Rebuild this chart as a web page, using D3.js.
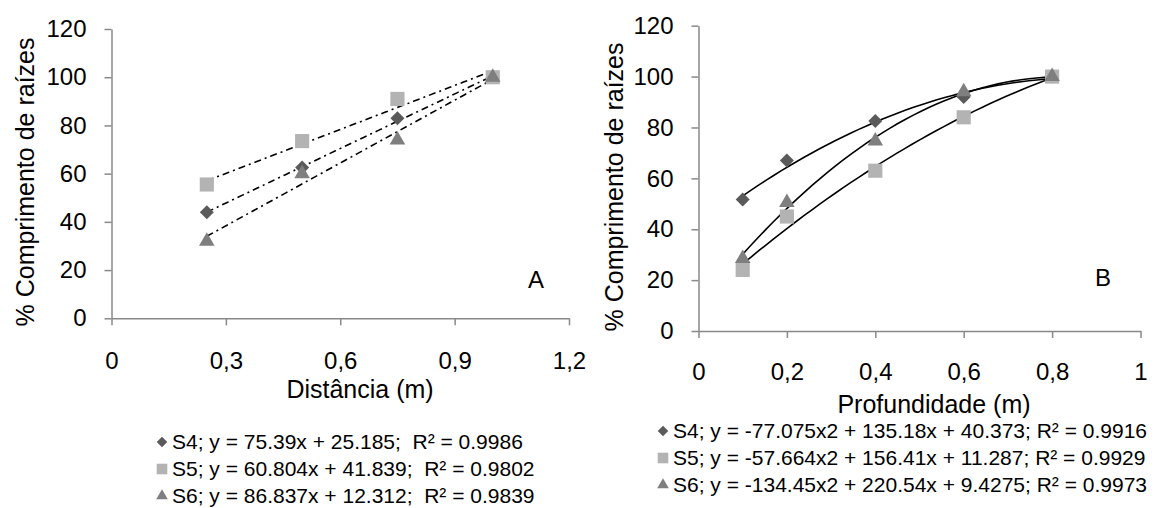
<!DOCTYPE html>
<html>
<head>
<meta charset="utf-8">
<script src="https://cdn.jsdelivr.net/npm/d3@7"></script>
<style>
  body { margin: 0; background: #fff; }
  svg text { font-family: "Liberation Sans", Arial, sans-serif; fill: #000; }
</style>
</head>
<body>
<svg id="chart" width="1162" height="508"></svg>
<script>
// Panel A: distance
const distX = [0.25, 0.5, 0.75, 1.0];
const distS4 = [44, 62.5, 83, 100];
const distS5 = [55.5, 73.5, 91, 100];
const distS6 = [32, 60, 74, 100];
const distFits = [[75.39, 25.185], [60.804, 41.839], [86.837, 12.312]];
const distLegend = [
    "S4; y = 75.39x + 25.185;  R² = 0.9986",
    "S5; y = 60.804x + 41.839;  R² = 0.9802",
    "S6; y = 86.837x + 12.312;  R² = 0.9839"
];
const distTicks = [0, 0.3, 0.6, 0.9, 1.2];

// Panel B: depth
const depthX = [0.1, 0.2, 0.4, 0.6, 0.8];
const depthS4 = [51.7, 67, 82.5, 92, 100];
const depthS5 = [24, 45, 63, 84, 100];
const depthS6 = [28.5, 50.5, 74.7, 94, 100];
const depthFits = [[-77.075, 135.18, 40.373], [-57.664, 156.41, 11.287], [-134.45, 220.54, 9.4275]];
const depthLegend = [
    "S4; y = -77.075x2 + 135.18x + 40.373; R² = 0.9916",
    "S5; y = -57.664x2 + 156.41x + 11.287; R² = 0.9929",
    "S6; y = -134.45x2 + 220.54x + 9.4275; R² = 0.9973"
];
const depthTicks = [0, 0.2, 0.4, 0.6, 0.8, 1];

const yTicks = [0, 20, 40, 60, 80, 100, 120];

const svg = d3.select("#chart");
const axisColor = "#898989";
const fmt = d => String(d).replace(".", ",");

// marker per series: diamond, square, triangle
const markerColor = ["#5a5a5a", "#b3b3b3", "#7f7f7f"];
function marker(sel, i, scale) {
    if (i === 0) {
        sel.attr("d", d3.symbol(d3.symbolSquare, 98 * scale * scale)())
            .attr("transform", (d) => d.t + " rotate(45)");
    } else if (i === 1) {
        sel.attr("d", d3.symbol(d3.symbolSquare, 200 * scale * scale)())
            .attr("transform", d => d.t);
    } else {
        sel.attr("d", d3.symbol(d3.symbolTriangle, 105 * scale * scale)())
            .attr("transform", d => d.t);
    }
    sel.attr("fill", markerColor[i]);
}

function drawPanel(cfg) {
    const x = d3.scaleLinear().domain(cfg.xDomain).range(cfg.xRange);
    const y = d3.scaleLinear().domain([0, 120]).range(cfg.yRange);
    const g = svg.append("g");

    // axes
    const yAxis = d3.axisLeft(y).tickValues(yTicks).tickSize(7).tickSizeOuter(0).tickPadding(18);
    const gy = g.append("g")
        .attr("transform", `translate(${cfg.xRange[0]},0)`)
        .call(yAxis);
    const xAxis = d3.axisBottom(x).tickValues(cfg.xTicks).tickFormat(fmt)
        .tickSize(7).tickSizeOuter(0).tickPadding(cfg.xPad);
    const gx = g.append("g")
        .attr("transform", `translate(0,${cfg.yRange[0]})`)
        .call(xAxis);
    [gx, gy].forEach(a => {
        a.select(".domain").attr("stroke", axisColor).attr("stroke-width", 1.5);
        a.selectAll(".tick line").attr("stroke", axisColor).attr("stroke-width", 1.5);
        a.selectAll("text").style("font-size", "24px").attr("fill", "#000");
    });

    // trend lines from the fitted equations
    const line = d3.line().x(d => x(d[0])).y(d => y(d[1]));
    cfg.fits.forEach(f => {
        const pts = d3.range(0, 41).map(k => {
            const xv = cfg.fitRange[0] + (cfg.fitRange[1] - cfg.fitRange[0]) * k / 40;
            return [xv, cfg.fitFn(f, xv)];
        });
        g.append("path")
            .attr("d", line(pts))
            .attr("fill", "none")
            .attr("stroke", "#000")
            .attr("stroke-width", 1.6)
            .attr("stroke-dasharray", cfg.dash);
    });

    // points
    cfg.series.forEach((vals, i) => {
        g.append("g").selectAll("path")
            .data(vals.map((v, k) => ({ t: `translate(${x(cfg.xs[k])},${y(v)})` })))
            .enter()
            .append("path")
            .call(marker, i, 1);
    });

    // axis titles
    g.append("text")
        .attr("transform", `translate(${cfg.yTitle[0]},${cfg.yTitle[1]}) rotate(-90)`)
        .attr("text-anchor", "middle")
        .attr("dy", "0.35em")
        .style("font-size", "25px")
        .text("% Comprimento de raízes");
    g.append("text")
        .attr("x", cfg.xTitle[0])
        .attr("y", cfg.xTitle[1])
        .attr("text-anchor", "middle")
        .style("font-size", "25px")
        .text(cfg.xLabel);
    g.append("text")
        .attr("x", cfg.letter[0])
        .attr("y", cfg.letter[1])
        .attr("text-anchor", "middle")
        .attr("dy", "0.35em")
        .style("font-size", "24px")
        .text(cfg.letterText);

    // legend
    cfg.legend.forEach((txt, i) => {
        const ly = cfg.legendY[i];
        g.append("path")
            .datum({ t: `translate(${cfg.legendX - 10},${ly - 7})` })
            .call(marker, i, 0.75);
        g.append("text")
            .attr("x", cfg.legendX)
            .attr("y", ly)
            .attr("xml:space", "preserve")
            .style("font-size", "21px")
            .text(txt);
    });
}

drawPanel({
    xDomain: [0, 1.2], xRange: [111.5, 569], yRange: [318.3, 29],
    xTicks: distTicks, xPad: 27,
    xs: distX, series: [distS4, distS5, distS6],
    fits: distFits, fitRange: [0.25, 1.0], fitFn: (f, v) => f[0] * v + f[1],
    dash: "7,4,2,4",
    yTitle: [25, 182], xTitle: [360, 398], xLabel: "Distância (m)",
    letter: [536, 280], letterText: "A",
    legendX: 172, legendY: [449, 476, 503], legend: distLegend
});

drawPanel({
    xDomain: [0, 1], xRange: [698.5, 1140.5], yRange: [331, 25.7],
    xTicks: depthTicks, xPad: 25,
    xs: depthX, series: [depthS4, depthS5, depthS6],
    fits: depthFits, fitRange: [0.1, 0.8], fitFn: (f, v) => f[0] * v * v + f[1] * v + f[2],
    dash: null,
    yTitle: [614, 187], xTitle: [934, 413], xLabel: "Profundidade (m)",
    letter: [1103, 278], letterText: "B",
    legendX: 673, legendY: [438, 465, 492], legend: depthLegend
});
</script>
</body>
</html>
